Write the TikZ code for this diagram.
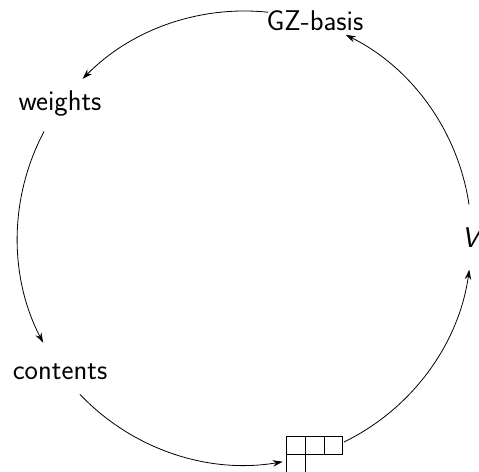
\documentclass[tikz,border=0pt]{standalone}
\usetikzlibrary{arrows.meta,calc}
\begin{document}
\begin{tikzpicture}[x=1pt,y=1pt,
  font=\sffamily\fontsize{28.5}{32}\selectfont,
  lbl/.style={inner sep=10pt},
  arr/.style={-{Stealth[length=10pt,width=6.5pt]}, line width=0.8pt},
  % arc of the circle round the origin, from one node to the next,
  % leaving a gap (in degrees) at either end
  ring/.style 2 args={to path={
    let \p1=(\tikztostart), \p2=(\tikztotarget),
        \n1={atan2(\y1,\x1)}, \n2={atan2(\y2,\x2)},
        \n3={\n2+360*(\n2<\n1)} in
    ({\n1+#1}:227pt) arc[start angle={\n1+#1}, end angle={\n3-#2}, radius=227pt]}},
  cell/.style={line width=0.8pt}]
\useasboundingbox (-244.5,-233) rectangle (234.5,238);
% five vertices of a pentagon on a circle of radius 228pt
\node[lbl] (V)  at (226pt,0)   {\itshape V};
\node[lbl] (GZ) at (72:228pt)  {GZ-basis};
\node[lbl] (W)  at (144:228pt) {weights};
\node[lbl] (C)  at (216:228pt) {contents};
% Young diagram of shape (3,1)
\node[inner sep=0pt, minimum width=55.8pt, minimum height=37.2pt] (T) at (288:228pt) {};
\draw[cell] (T.north west) rectangle ++(55.8pt,-18.6pt);
\draw[cell] ([xshift=18.6pt]T.north west) -- ++(0,-37.2pt);
\draw[cell] ([xshift=37.2pt]T.north west) -- ++(0,-18.6pt);
\draw[cell] (T.north west) -- (T.south west);
% arrows around the circle
\draw[arr] (V)  to[ring={8.5}{8.5}] (GZ);
\draw[arr] (GZ) to[ring={12}{8.5}] (W);
\draw[arr] (W)  to[ring={8}{8.5}] (C);
\draw[arr] (C)  to[ring={7.5}{8.3}] (T);
\draw[arr] (T)  to[ring={8}{8}] (V);
\end{tikzpicture}
\end{document}
